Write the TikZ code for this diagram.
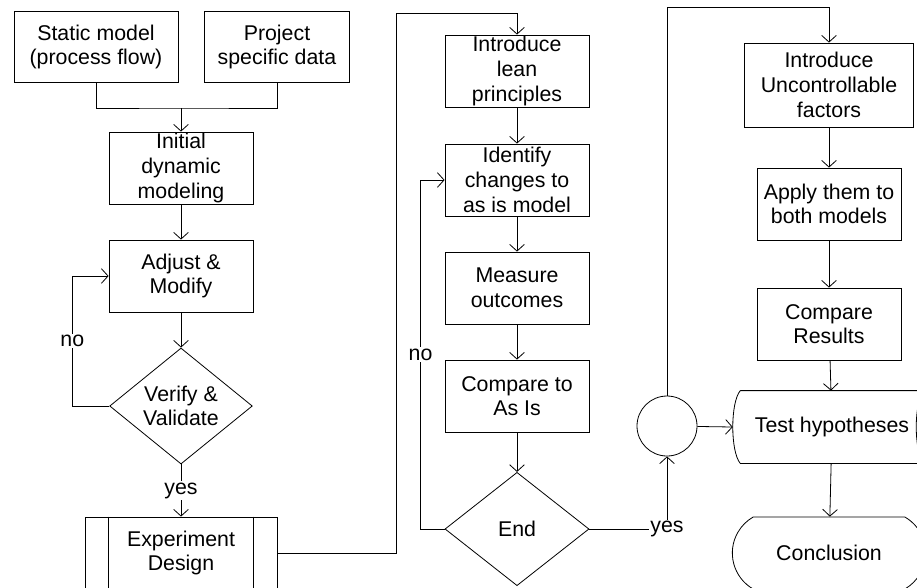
\documentclass[tikz,border=0pt]{standalone}
\usepackage{fontspec}
\setmainfont{Liberation Sans}
\usetikzlibrary{arrows,arrows.meta,shapes.geometric,shapes.misc}

\begin{document}
\begin{tikzpicture}[x=0.75pt,y=-0.75pt,line width=0.6pt]
    \tikzset{box/.style = {shape=rectangle, draw, align=center, inner sep=0pt, minimum width=108pt, minimum height=54pt, font=\fontsize{16}{18.5}\selectfont}}
    \tikzset{decision/.style = {shape=diamond, draw, align=center, inner sep=0pt, aspect=1.25, font=\fontsize{16}{18.5}\selectfont}}
    \tikzset{lbl/.style = {fill=white, inner sep=1pt, font=\fontsize{16}{18.5}\selectfont}}
    \tikzset{>={Straight Barb[length=5pt,width=11pt]}}

    \useasboundingbox (0,0) rectangle (917,587);
    \clip (0,0) rectangle (917,587);

    % vertices
    \node[box, minimum width=123pt, minimum height=53pt] (static) at (96,47) {Static model\\(process flow)};
    \node[box, minimum width=109pt, minimum height=53pt] (project) at (277,47) {Project\\specific data};
    \node[box] (initial) at (181,168) {Initial\\dynamic\\modeling};
    \node[box] (adjust) at (181,276) {Adjust \&\\Modify};
    \node[decision, minimum width=107pt, minimum height=87pt] (verify) at (181,406) {Verify \&\\Validate};
    \node[box, minimum width=144pt] (design) at (181,553) {Experiment\\Design};
    \node[box] (lean) at (517,71) {Introduce\\lean\\principles};
    \node[box] (identify) at (517,180) {Identify\\changes to\\as is model};
    \node[box] (measure) at (517,288) {Measure\\outcomes};
    \node[box] (asis) at (517,396) {Compare to\\As Is};
    \node[decision, minimum width=108pt, minimum height=85pt] (end) at (517,529) {End};
    \node[circle, draw, minimum size=45pt] (junction) at (667,426) {};
    \node[box, minimum width=127pt, minimum height=63pt] (factors) at (829,85) {Introduce\\Uncontrollable\\factors};
    \node[box] (apply) at (829,204) {Apply them to\\both models};
    \node[box] (results) at (829,324) {Compare\\Results};
    \node[box, draw=none, minimum width=137pt] (test) at (832,427) {Test hypotheses};
    \node[box, shape=rounded rectangle, rounded rectangle arc length=120, minimum width=145pt] (conclusion) at (829,553) {Conclusion};

    % extra strokes on the special shapes
    \draw ([xshift=18pt]design.north west) -- ([xshift=18pt]design.south west);
    \draw ([xshift=-18pt]design.north east) -- ([xshift=-18pt]design.south east);
    \draw (test.north west) -- (test.north east) .. controls +(-10,12) and +(-10,-12) .. (test.south east)
        -- (test.south west) .. controls +(-10,-12) and +(-10,12) .. (test.north west);

    % edges
    \coordinate (join) at (181,108);
    \draw (static.south) |- (join) -| (project.south);
    \draw[->] (join) -- (initial);
    \draw[->] (initial) -- (adjust);
    \draw[->] (adjust) -- (verify);
    \draw[->] (verify.west) -- ++(-37,0) |- node[lbl, pos=0.25]{no} (adjust.west);
    \draw[->] (verify) -- node[lbl]{yes} (design);

    \coordinate (up1) at (396,13);
    \draw[->] (design.east) -| (up1) -| (lean.north);
    \draw[->] (lean) -- (identify);
    \draw[->] (identify) -- (measure);
    \draw[->] (measure) -- (asis);
    \draw[->] (asis) -- (end);
    \draw[->] (end.west) -- ++(-24,0) |- node[lbl, pos=0.25]{no} (identify.west);
    \draw[->] (end.east) -| node[lbl]{yes} (junction.south);

    \coordinate (up2) at (667,7);
    \draw[->] (junction.north) -- (up2) -| (factors.north);
    \draw[->] (junction) -- ([xshift=-5.6pt]test.west);
    \draw[->, semithick] (factors) -- (apply);
    \draw[->, semithick] (apply) -- (results);
    \draw[->] (results) -- (test);
    \draw[->] (test) -- (conclusion);
\end{tikzpicture}
\end{document}
